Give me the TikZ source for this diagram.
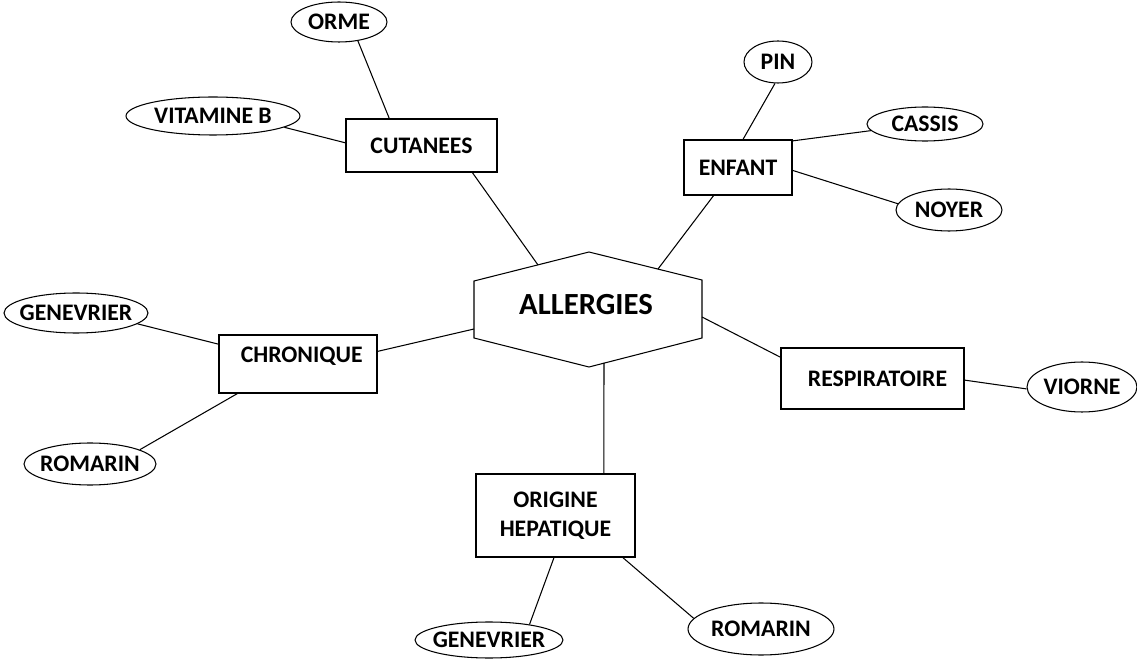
\documentclass[tikz,border=0pt]{standalone}
\usepackage{fontspec}
\setmainfont{Carlito}
\usetikzlibrary{shapes.geometric,calc}
\begin{document}
\begin{tikzpicture}[x=0.02cm,y=-0.02cm,line width=0.6pt,
  font=\bfseries\fontsize{13.5}{16.5}\selectfont,
  box/.style={draw,rectangle,inner sep=0pt,align=center},
  oval/.style={draw,ellipse,inner sep=0pt},
  hexa/.style={draw,line join=miter},
  link/.style={draw}]
\useasboundingbox (0,0) rectangle (1137,662);
% central hexagon
\draw[hexa] (589,252) -- (702,280) -- (702,338) -- (589,367) -- (474,338) -- (474,281) -- cycle;
\node[font=\bfseries\fontsize{17.5}{20}\selectfont] (all) at (586,305) {ALLERGIES};
\coordinate (h1) at (538,265);
\coordinate (h2) at (658,269);
\coordinate (h3) at (474,329);
\coordinate (h4) at (702,317);
\coordinate (h5) at (604,363);
% boxes
\node[box,minimum width=3.02cm,minimum height=1.06cm] (cut) at (421.5,145.5) {CUTANEES};
\node[box,minimum width=2.16cm,minimum height=1.10cm] (enf) at (738,167.5) {ENFANT};
\node[box,minimum width=3.16cm,minimum height=1.16cm,text height=8.5pt,text depth=10.5pt] (chr) at (298,364) {\hspace{0.15cm}CHRONIQUE};
\node[box,minimum width=3.66cm,minimum height=1.22cm] (resp) at (872.5,378.5) {\hspace{0.2cm}RESPIRATOIRE};
\node[box,minimum width=3.18cm,minimum height=1.66cm] (ori) at (555.5,515.5) {ORIGINE\\HEPATIQUE};
% ovals
\node[oval,minimum width=1.92cm,minimum height=0.80cm] (orme) at (339,22) {ORME};
\node[oval,minimum width=3.48cm,minimum height=0.76cm] (vit) at (213,116) {\makebox[2cm]{VITAMINE B}};
\node[oval,minimum width=1.36cm,minimum height=0.84cm] (pin) at (778,62) {PIN};
\node[oval,minimum width=2.32cm,minimum height=0.68cm] (cas) at (925,124) {\makebox[1.4cm]{CASSIS}};
\node[oval,minimum width=2.12cm,minimum height=0.84cm] (noy) at (949,210) {NOYER};
\node[oval,minimum width=2.88cm,minimum height=0.80cm] (genl) at (76,313) {\makebox[1.7cm]{GENEVRIER}};
\node[oval,minimum width=2.64cm,minimum height=0.84cm] (roml) at (90,464) {\makebox[1.5cm]{ROMARIN}};
\node[oval,minimum width=2.20cm,minimum height=1.00cm] (vio) at (1082,387) {VIORNE};
\node[oval,minimum width=2.96cm,minimum height=0.72cm] (genb) at (489,640) {\makebox[1.7cm]{GENEVRIER}};
\node[oval,minimum width=2.92cm,minimum height=1.04cm] (romb) at (761,629) {\makebox[1.5cm]{ROMARIN}};
% connectors
\draw[link] (orme.-45) -- (cut.140);
\draw[link] (vit.-9) -- (cut.178);
\draw[link] (cut.-28) -- (h1);
\draw[link] (pin.-98) -- (enf.80);
\draw[link] (cas.187) -- (enf.26);
\draw[link] (noy.173.5) -- (enf.-3.6);
\draw[link] (enf.-131) -- (h2);
\draw[link] (genl.-10) -- (chr.166.5);
\draw[link] (roml.16) -- (chr.-154);
\draw[link] (chr.9.3) -- (h3);
\draw[link] (h4) -- (resp.167.4);
\draw[link] (resp.-1.5) -- (vio.182);
\draw[link] (h5) -- (ori.41.8);
\draw[link] (ori.-92) -- (genb.21);
\draw[link] (ori.-32) -- (romb.171.2);
\end{tikzpicture}
\end{document}
